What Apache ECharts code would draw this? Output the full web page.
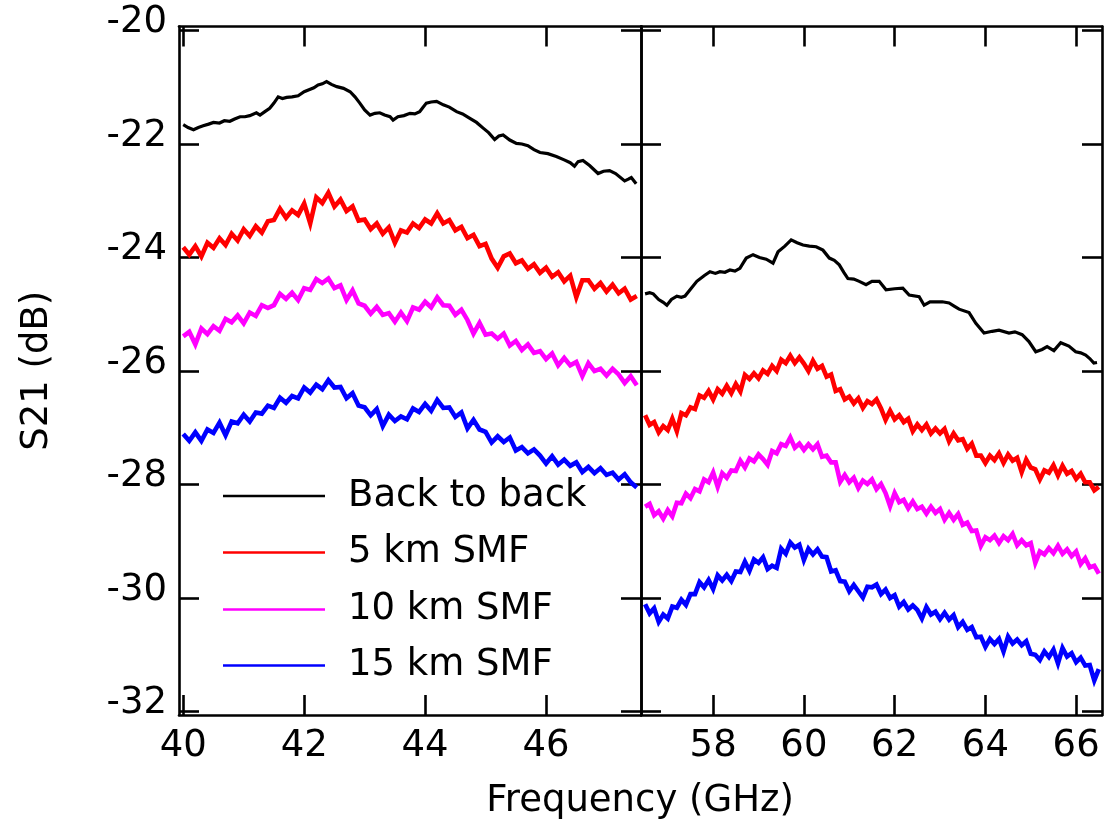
<!DOCTYPE html>
<html>
<head>
<meta charset="utf-8">
<script src="https://cdn.jsdelivr.net/npm/echarts@6/dist/echarts.min.js"></script>
<style>
html,body{margin:0;padding:0;background:#fff;}
#chart{width:1105px;height:823px;}
</style>
</head>
<body>
<div id="chart"></div>
<script>
// ---------- DATA ----------
const seriesNames = ['Back to back', '5 km SMF', '10 km SMF', '15 km SMF'];
const yTicks = [-32, -30, -28, -26, -24, -22, -20];
const lowBandTicks = [40, 42, 44, 46];
const highBandTicks = [58, 60, 62, 64, 66];

// Back to back (smooth trace), [GHz, dB]
const backToBackLow = [[40.00,-21.66],[40.08,-21.71],[40.17,-21.75],[40.25,-21.71],[40.33,-21.68],[40.42,-21.65],[40.50,-21.62],[40.60,-21.63],[40.68,-21.59],[40.77,-21.60],[40.85,-21.56],[40.94,-21.52],[41.02,-21.52],[41.10,-21.50],[41.21,-21.45],[41.27,-21.49],[41.35,-21.43],[41.43,-21.37],[41.50,-21.28],[41.57,-21.17],[41.64,-21.20],[41.71,-21.18],[41.80,-21.17],[41.90,-21.15],[42.00,-21.08],[42.09,-21.04],[42.16,-21.01],[42.23,-20.96],[42.30,-20.94],[42.37,-20.90],[42.45,-20.95],[42.54,-20.99],[42.65,-21.02],[42.76,-21.08],[42.84,-21.17],[42.92,-21.28],[43.00,-21.40],[43.09,-21.49],[43.17,-21.46],[43.25,-21.45],[43.33,-21.49],[43.42,-21.52],[43.47,-21.58],[43.55,-21.52],[43.65,-21.50],[43.75,-21.46],[43.83,-21.47],[43.91,-21.43],[43.96,-21.36],[44.02,-21.28],[44.10,-21.26],[44.19,-21.25],[44.30,-21.31],[44.40,-21.35],[44.52,-21.43],[44.62,-21.47],[44.74,-21.55],[44.85,-21.62],[44.96,-21.72],[45.05,-21.80],[45.15,-21.92],[45.22,-21.86],[45.29,-21.84],[45.40,-21.93],[45.51,-21.99],[45.60,-22.00],[45.70,-22.03],[45.80,-22.10],[45.90,-22.15],[46.03,-22.17],[46.17,-22.22],[46.30,-22.28],[46.40,-22.33],[46.47,-22.39],[46.53,-22.31],[46.61,-22.29],[46.72,-22.38],[46.86,-22.52],[46.95,-22.48],[47.05,-22.47],[47.15,-22.52],[47.30,-22.65],[47.36,-22.62],[47.41,-22.59],[47.49,-22.70]];
const backToBackHigh = [[56.50,-24.64],[56.60,-24.62],[56.68,-24.64],[56.80,-24.74],[56.90,-24.79],[56.98,-24.84],[57.08,-24.74],[57.20,-24.68],[57.30,-24.70],[57.38,-24.68],[57.50,-24.56],[57.64,-24.42],[57.80,-24.32],[57.93,-24.25],[58.05,-24.28],[58.15,-24.25],[58.26,-24.26],[58.37,-24.22],[58.48,-24.24],[58.59,-24.19],[58.66,-24.10],[58.73,-24.01],[58.88,-23.95],[59.02,-24.00],[59.17,-24.03],[59.32,-24.10],[59.43,-23.90],[59.58,-23.80],[59.72,-23.69],[59.85,-23.74],[59.98,-23.78],[60.12,-23.80],[60.27,-23.81],[60.42,-23.87],[60.56,-24.01],[60.67,-24.05],[60.78,-24.13],[60.88,-24.26],[60.97,-24.37],[61.10,-24.38],[61.22,-24.42],[61.37,-24.48],[61.50,-24.42],[61.66,-24.42],[61.81,-24.57],[62.00,-24.55],[62.18,-24.54],[62.32,-24.66],[62.54,-24.69],[62.65,-24.84],[62.78,-24.78],[62.91,-24.78],[63.05,-24.78],[63.20,-24.80],[63.32,-24.86],[63.42,-24.91],[63.64,-24.97],[63.79,-25.16],[63.97,-25.33],[64.15,-25.30],[64.30,-25.28],[64.52,-25.33],[64.65,-25.31],[64.81,-25.36],[64.96,-25.48],[65.11,-25.66],[65.25,-25.62],[65.36,-25.57],[65.51,-25.64],[65.66,-25.50],[65.84,-25.56],[65.99,-25.66],[66.10,-25.68],[66.21,-25.72],[66.30,-25.78],[66.39,-25.86],[66.46,-25.85]];

// Sampling frequencies of the noisy traces (GHz)
const lowBandFreq = [40.0,40.1,40.2,40.3,40.4,40.5,40.6,40.7,40.8,40.9,41.0,41.1,41.2,41.3,41.4,41.5,41.6,41.7,41.8,41.9,42.0,42.1,42.2,42.3,42.4,42.5,42.6,42.7,42.8,42.9,43.0,43.1,43.2,43.3,43.4,43.5,43.6,43.7,43.8,43.9,44.0,44.1,44.2,44.3,44.4,44.5,44.6,44.7,44.8,44.9,45.0,45.1,45.2,45.3,45.4,45.5,45.6,45.7,45.8,45.9,46.0,46.1,46.2,46.3,46.4,46.5,46.6,46.7,46.8,46.9,47.0,47.1,47.2,47.3,47.4,47.5];
const highBandFreq = [56.5,56.6,56.7,56.8,56.9,57.0,57.1,57.2,57.3,57.4,57.5,57.6,57.7,57.8,57.9,58.0,58.1,58.2,58.3,58.4,58.5,58.6,58.7,58.8,58.9,59.0,59.1,59.2,59.3,59.4,59.5,59.6,59.7,59.8,59.9,60.0,60.1,60.2,60.3,60.4,60.5,60.6,60.7,60.8,60.9,61.0,61.1,61.2,61.3,61.4,61.5,61.6,61.7,61.8,61.9,62.0,62.1,62.2,62.3,62.4,62.5,62.6,62.7,62.8,62.9,63.0,63.1,63.2,63.3,63.4,63.5,63.6,63.7,63.8,63.9,64.0,64.1,64.2,64.3,64.4,64.5,64.6,64.7,64.8,64.9,65.0,65.1,65.2,65.3,65.4,65.5,65.6,65.7,65.8,65.9,66.0,66.1,66.2,66.3,66.4,66.5];

// S21 (dB) at those frequencies
const smf5Low = [-23.82,-23.95,-23.80,-23.98,-23.74,-23.83,-23.66,-23.78,-23.58,-23.70,-23.50,-23.62,-23.45,-23.56,-23.36,-23.34,-23.14,-23.30,-23.17,-23.25,-23.05,-23.40,-22.94,-23.04,-22.86,-23.10,-22.98,-23.18,-23.10,-23.35,-23.33,-23.50,-23.40,-23.58,-23.47,-23.74,-23.52,-23.56,-23.40,-23.48,-23.33,-23.40,-23.22,-23.40,-23.34,-23.52,-23.46,-23.66,-23.60,-23.80,-23.76,-24.02,-24.18,-23.98,-23.93,-24.10,-24.05,-24.20,-24.12,-24.27,-24.18,-24.34,-24.26,-24.42,-24.32,-24.70,-24.40,-24.40,-24.55,-24.45,-24.60,-24.48,-24.63,-24.55,-24.74,-24.68];
const smf10Low = [-25.39,-25.31,-25.53,-25.25,-25.35,-25.21,-25.29,-25.08,-25.14,-25.02,-25.16,-24.97,-25.03,-24.84,-24.89,-24.84,-24.64,-24.73,-24.62,-24.75,-24.54,-24.57,-24.38,-24.45,-24.37,-24.54,-24.49,-24.75,-24.58,-24.81,-24.85,-24.99,-24.87,-25.01,-24.98,-25.13,-24.97,-25.12,-24.88,-24.92,-24.78,-24.88,-24.70,-24.84,-24.85,-25.01,-24.92,-25.10,-25.34,-25.15,-25.36,-25.34,-25.43,-25.34,-25.55,-25.47,-25.63,-25.53,-25.68,-25.65,-25.79,-25.69,-25.90,-25.77,-25.90,-25.84,-26.09,-25.86,-26.00,-25.96,-26.08,-25.96,-26.06,-26.21,-26.09,-26.25];
const smf15Low = [-27.11,-27.23,-27.08,-27.23,-27.03,-27.09,-26.91,-27.13,-26.89,-26.92,-26.77,-26.89,-26.73,-26.75,-26.61,-26.65,-26.47,-26.56,-26.44,-26.48,-26.29,-26.38,-26.24,-26.32,-26.16,-26.29,-26.28,-26.48,-26.39,-26.61,-26.64,-26.78,-26.67,-26.97,-26.77,-26.88,-26.80,-26.85,-26.66,-26.72,-26.58,-26.70,-26.51,-26.65,-26.64,-26.81,-26.73,-27.01,-26.86,-27.03,-27.07,-27.26,-27.15,-27.25,-27.17,-27.40,-27.34,-27.45,-27.38,-27.49,-27.63,-27.50,-27.65,-27.56,-27.67,-27.61,-27.78,-27.69,-27.80,-27.71,-27.83,-27.79,-27.91,-27.82,-27.96,-28.05];

const smf5High = [-26.78,-26.95,-26.90,-27.08,-26.97,-27.04,-26.84,-27.06,-26.74,-26.78,-26.64,-26.67,-26.43,-26.47,-26.35,-26.50,-26.32,-26.40,-26.26,-26.39,-26.23,-26.36,-26.07,-26.14,-26.04,-26.13,-25.99,-26.05,-25.91,-26.00,-25.80,-25.86,-25.73,-25.86,-25.76,-25.87,-26.00,-25.82,-25.96,-25.91,-26.10,-26.06,-26.35,-26.32,-26.50,-26.45,-26.57,-26.48,-26.65,-26.53,-26.58,-26.50,-26.66,-26.86,-26.70,-26.85,-26.78,-26.90,-26.84,-27.06,-26.94,-27.04,-26.94,-27.10,-27.01,-27.10,-27.02,-27.24,-27.10,-27.22,-27.20,-27.37,-27.28,-27.49,-27.49,-27.62,-27.49,-27.57,-27.45,-27.62,-27.47,-27.58,-27.53,-27.78,-27.56,-27.70,-27.73,-27.91,-27.75,-27.79,-27.66,-27.84,-27.67,-27.81,-27.76,-27.90,-27.81,-27.96,-27.96,-28.10,-28.04];
const smf10High = [-28.39,-28.34,-28.54,-28.47,-28.60,-28.45,-28.56,-28.32,-28.33,-28.16,-28.24,-28.08,-28.12,-27.91,-27.96,-27.79,-28.04,-27.80,-27.88,-27.75,-27.76,-27.58,-27.70,-27.54,-27.59,-27.47,-27.55,-27.65,-27.41,-27.45,-27.29,-27.32,-27.17,-27.35,-27.28,-27.39,-27.29,-27.38,-27.29,-27.51,-27.49,-27.61,-27.61,-27.95,-27.83,-27.96,-27.88,-28.06,-27.93,-27.99,-27.91,-28.08,-27.99,-28.15,-28.38,-28.15,-28.31,-28.27,-28.42,-28.30,-28.43,-28.39,-28.51,-28.39,-28.50,-28.43,-28.62,-28.50,-28.62,-28.52,-28.71,-28.67,-28.82,-28.81,-29.08,-28.93,-28.98,-28.90,-29.03,-28.91,-28.98,-28.87,-29.07,-28.98,-29.07,-29.03,-29.38,-29.18,-29.23,-29.12,-29.21,-29.08,-29.22,-29.14,-29.26,-29.18,-29.40,-29.30,-29.46,-29.43,-29.57];
const smf15High = [-30.11,-30.27,-30.18,-30.42,-30.29,-30.36,-30.15,-30.17,-30.03,-30.12,-29.93,-29.93,-29.72,-29.81,-29.68,-29.84,-29.60,-29.69,-29.59,-29.70,-29.53,-29.54,-29.36,-29.52,-29.32,-29.38,-29.28,-29.49,-29.43,-29.47,-29.13,-29.22,-29.02,-29.11,-29.06,-29.33,-29.13,-29.23,-29.14,-29.27,-29.28,-29.53,-29.51,-29.70,-29.71,-29.88,-29.77,-29.88,-29.99,-29.80,-29.81,-29.76,-29.93,-29.85,-30.00,-29.95,-30.15,-30.07,-30.20,-30.13,-30.21,-30.36,-30.16,-30.29,-30.24,-30.37,-30.26,-30.38,-30.30,-30.51,-30.42,-30.56,-30.51,-30.69,-30.68,-30.86,-30.72,-30.81,-30.72,-30.94,-30.68,-30.80,-30.73,-30.83,-30.76,-30.98,-31.00,-31.09,-30.94,-31.04,-30.91,-31.15,-30.88,-31.03,-30.97,-31.13,-31.05,-31.19,-31.18,-31.45,-31.25];

// ---------- CHART ----------
const FONT = 'DejaVu Sans';
const colors = ['#000000', '#ff0000', '#ff00ff', '#0000ff'];
const lineWidths = [3.2, 4.6, 4.6, 4.6];
const pair = (xs, ys) => xs.map((x, i) => [x, ys[i]]);

const lowData = [backToBackLow, pair(lowBandFreq, smf5Low), pair(lowBandFreq, smf10Low), pair(lowBandFreq, smf15Low)];
const highData = [backToBackHigh, pair(highBandFreq, smf5High), pair(highBandFreq, smf10High), pair(highBandFreq, smf15High)];

const axisLine = { show: true, onZero: false, lineStyle: { color: '#000', width: 2.6 } };
const tickStyle = (vals) => ({ show: true, inside: true, length: 20, customValues: vals, lineStyle: { color: '#000', width: 2.6 } });
const labelStyle = { color: '#000', fontSize: 37, fontFamily: FONT };

function xAx(gridIndex, min, max, ticks, pos, showLabel) {
  return {
    type: 'value', gridIndex, position: pos, min, max,
    axisLine, axisTick: tickStyle(ticks), splitLine: { show: false },
    axisLabel: showLabel ? Object.assign({ show: true, margin: 13, customValues: ticks }, labelStyle) : { show: false }
  };
}
function yAx(gridIndex, pos, showLabel) {
  const a = {
    type: 'value', gridIndex, position: pos, min: -32.06, max: -19.93,
    axisLine, axisTick: tickStyle(yTicks), splitLine: { show: false },
    axisLabel: showLabel ? Object.assign({ show: true, margin: 12, customValues: yTicks, verticalAlign: 'bottom', lineHeight: 16 }, labelStyle) : { show: false }
  };
  if (showLabel) {
    a.name = 'S21 (dB)';
    a.nameLocation = 'middle';
    a.nameGap = 123;
    a.nameTextStyle = { color: '#000', fontSize: 37, fontFamily: FONT };
  }
  return a;
}

const series = [];
seriesNames.forEach((name, i) => {
  [[0, lowData[i]], [1, highData[i]]].forEach(([g, d]) => {
    series.push({
      name, type: 'line', xAxisIndex: g * 2, yAxisIndex: g * 2, data: d,
      symbol: 'none', showSymbol: false, silent: true, clip: true,
      lineStyle: { color: colors[i], width: lineWidths[i], join: 'miter' },
      itemStyle: { color: colors[i] }, z: 2 + i
    });
  });
});

const legendCenters = [496, 552.5, 609.5, 665.5];
const legends = seriesNames.map((name, i) => ({
  data: [name], orient: 'vertical', left: 218, top: legendCenters[i] - 25,
  icon: 'rect', itemWidth: 102, itemHeight: 2.5, selectedMode: false,
  textStyle: { color: '#000', fontSize: 37, fontFamily: FONT, lineHeight: 40, padding: [0, 0, 0, 18] }
}));

const option = {
  backgroundColor: '#fff',
  animation: false,
  grid: [
    { left: 179, top: 26.5, width: 462, height: 688.5 },
    { left: 641, top: 26.5, width: 461, height: 688.5 }
  ],
  xAxis: [
    xAx(0, 39.93, 47.57, lowBandTicks, 'bottom', true),
    xAx(0, 39.93, 47.57, lowBandTicks, 'top', false),
    xAx(1, 56.41, 66.57, highBandTicks, 'bottom', true),
    xAx(1, 56.41, 66.57, highBandTicks, 'top', false)
  ],
  yAxis: [
    yAx(0, 'left', true),
    yAx(0, 'right', false),
    yAx(1, 'left', false),
    yAx(1, 'right', false)
  ],
  legend: legends,
  graphic: [{
    type: 'text', x: 640, y: 801,
    style: { text: 'Frequency (GHz)', fill: '#000', fontSize: 37, fontFamily: FONT, textAlign: 'center', textVerticalAlign: 'middle' }
  }],
  series
};

const chart = echarts.init(document.getElementById('chart'), null, { renderer: 'canvas' });
chart.setOption(option);
</script>
</body>
</html>
